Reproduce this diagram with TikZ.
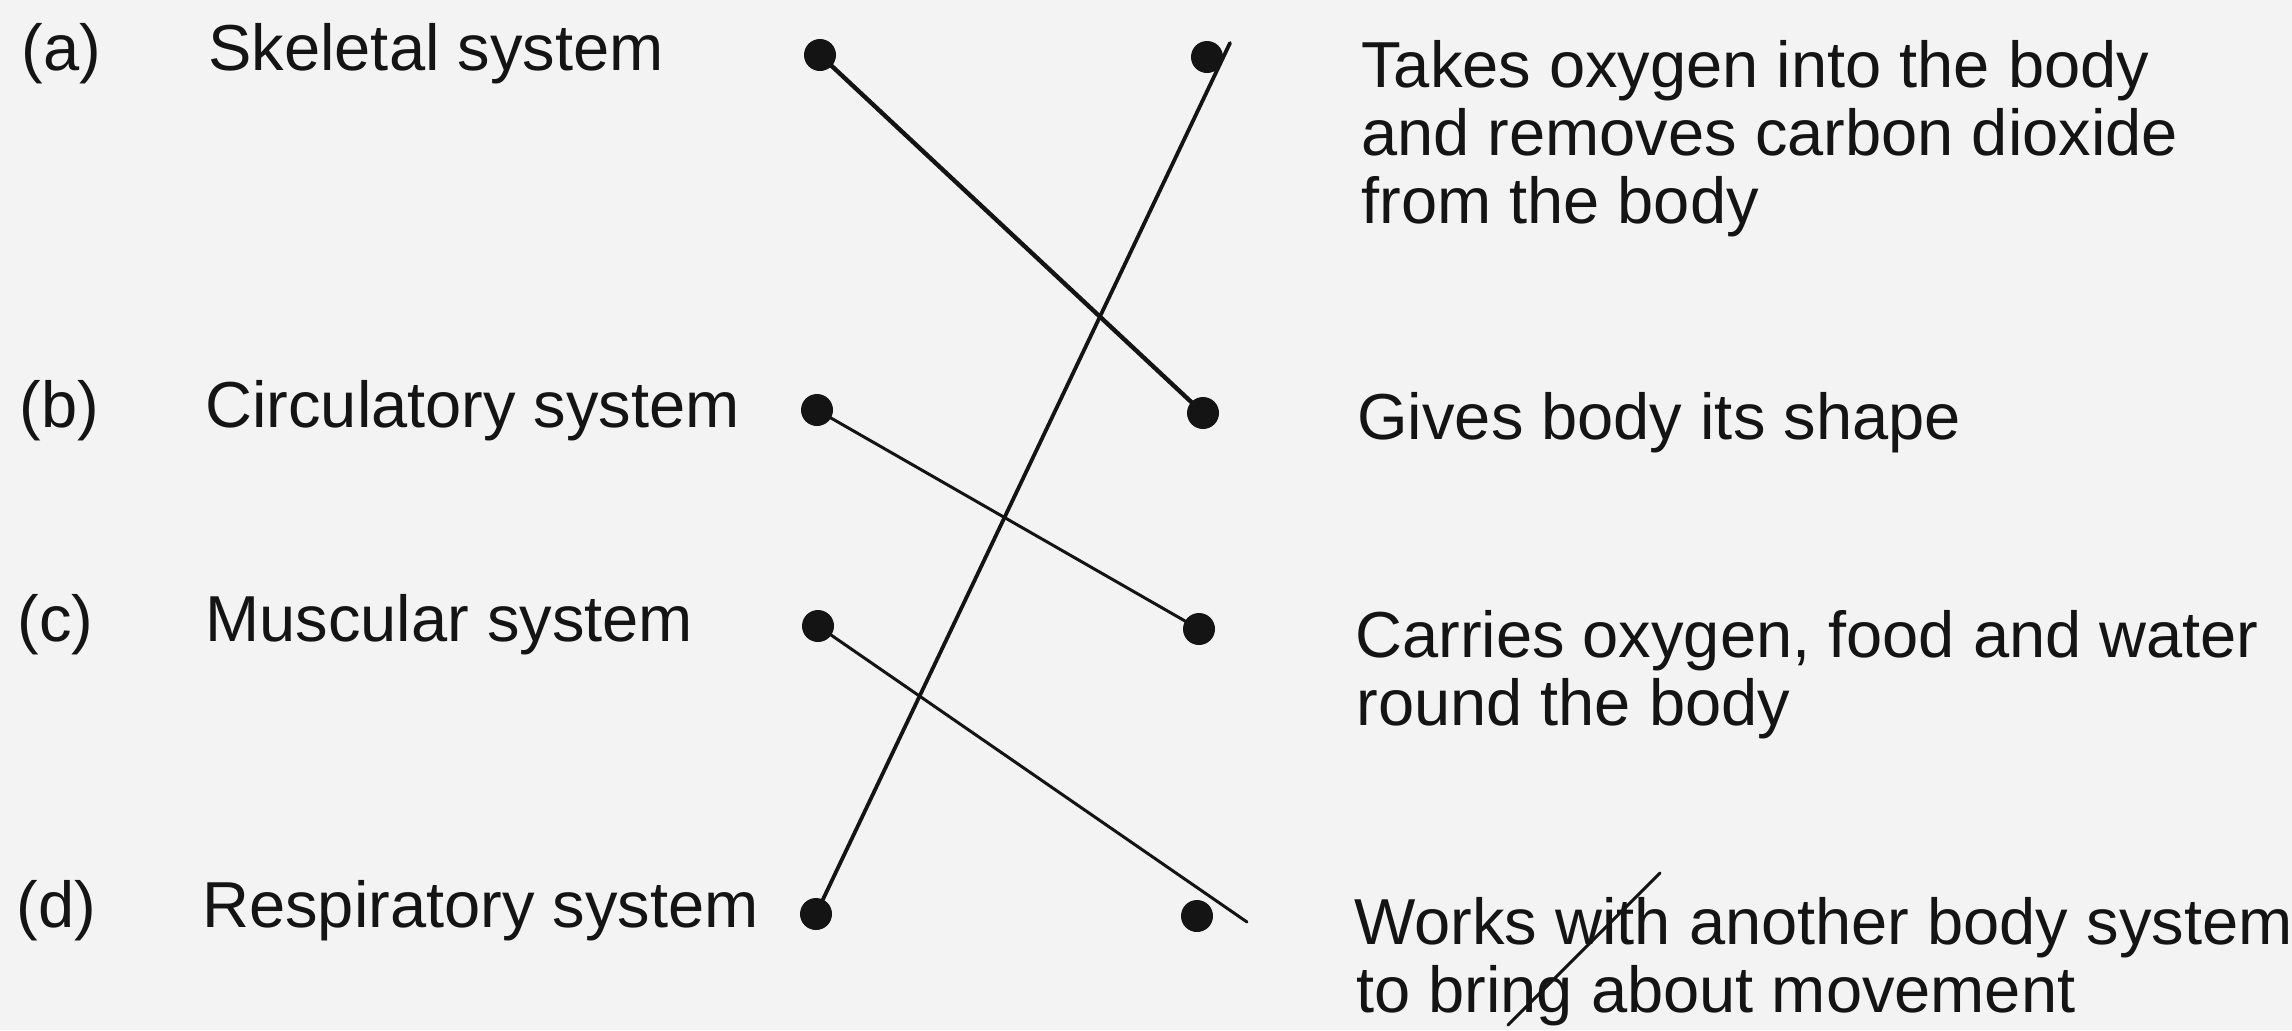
\documentclass[tikz,border=0pt]{standalone}
\usepackage{fontspec}
\setmainfont{Liberation Sans}
\definecolor{ink}{HTML}{141414}
\definecolor{paper}{HTML}{F3F3F3}
\begin{document}
\begin{tikzpicture}[x=0.5pt,y=-0.5pt,
  txt/.style={anchor=base west, inner sep=0pt, text=ink,
              font=\fontsize{32.5}{34}\selectfont},
  dot/.style={circle, fill=ink, inner sep=0pt, minimum size=16pt},
  link/.style={draw=ink, line width=1.5pt, line cap=round},
  boldlink/.style={draw=ink, line width=2.2pt, line cap=round}]
\fill[paper] (0,0) rectangle (2292,1030);
\useasboundingbox (0,0) rectangle (2292,1030);

% item letters
\node[txt] (ka) at (21,70)  {(a)};
\node[txt] (kb) at (19,427) {(b)};
\node[txt] (kc) at (17,641) {(c)};
\node[txt] (kd) at (16,927) {(d)};

% body systems
\node[txt] (sa) at (208,70)  {Skeletal system};
\node[txt] (sb) at (205,427) {Circulatory system};
\node[txt] (sc) at (205,641) {Muscular system};
\node[txt] (sd) at (202,927) {Respiratory system};

% functions
\node[txt] (fa1) at (1361,87)  {Takes oxygen into the body};
\node[txt] (fa2) at (1361,155) {and removes carbon dioxide};
\node[txt] (fa3) at (1361,223) {from the body};
\node[txt] (fb1) at (1357,439) {Gives body its shape};
\node[txt] (fc1) at (1355,657) {Carries oxygen, food and water};
\node[txt] (fc2) at (1356,725) {round the body};
\node[txt] (fd1) at (1354,944) {Works with another body system};
\node[txt] (fd2) at (1356,1012) {to bring about movement};

% matching dots
\node[dot] (la) at (820,55)  {};
\node[dot] (lb) at (817,410) {};
\node[dot] (lc) at (818,626) {};
\node[dot] (ld) at (816,914) {};
\node[dot] (ra) at (1207,57)  {};
\node[dot] (rb) at (1203,413) {};
\node[dot] (rc) at (1199,629) {};
\node[dot] (rd) at (1197,916) {};

% free ends of the overshooting strokes
\coordinate (overA) at (1230,43);
\coordinate (overD) at (1247,922);
\coordinate (tickTop) at (1660,873);
\coordinate (tickBot) at (1508,1025);

% answer lines
\draw[boldlink] (la.center) -- (rb.center);
\draw[link] (lb.center) -- (rc.center);
\draw[link] (lc.center) -- (overD);
\draw[boldlink, line width=1.9pt] (ld.center) -- (overA);
\draw[link] (tickBot) -- (tickTop);
\end{tikzpicture}
\end{document}
